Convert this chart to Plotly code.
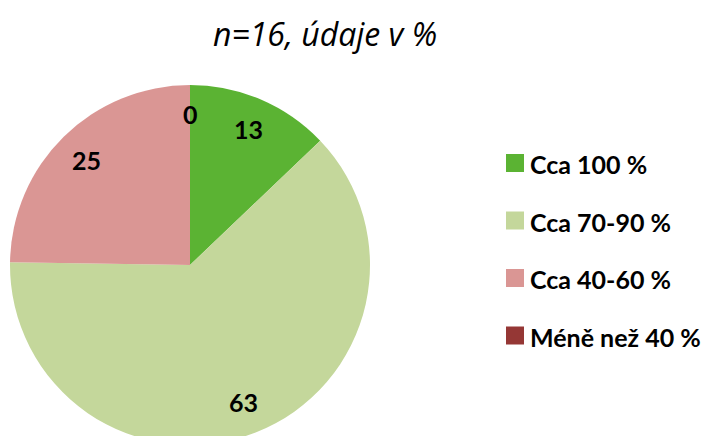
import math
import plotly.graph_objects as go

categories = ["Cca 100 %", "Cca 70-90 %", "Cca 40-60 %", "Méně než 40 %"]
values = [13, 63, 25, 0]
colors = ["#5BB333", "#C4D79B", "#DA9694", "#953735"]
title_text = "n=16, údaje v %"

W, H = 714, 460
OFF = 8  # page body margin
cx, cy, r = 190 - OFF, 265 - OFF, 180  # pixel layout of the pie (figure coords)

def px_x(x):
    return x / W

def px_y(y):
    return 1 - y / H

fig = go.Figure()
fig.add_trace(go.Pie(
    labels=categories, values=values, sort=False, direction="clockwise",
    rotation=0, marker=dict(colors=colors, line=dict(width=0)),
    textinfo="none", hoverinfo="label+value", showlegend=False,
    domain=dict(x=[px_x(cx - r), px_x(cx + r)], y=[px_y(cy + r), px_y(cy - r)]),
))

font_fam = "Lato, 'Open Sans', sans-serif"
# data labels placed at slice mid-angles computed from the values
total = sum(values)
cum = 0
for v in values:
    mid = (cum + v / 2) / total * 2 * math.pi
    cum += v
    frac = 0.84 if v == 0 else 0.82
    x = cx + frac * r * math.sin(mid)
    y = cy - frac * r * math.cos(mid)
    fig.add_annotation(x=px_x(x), y=px_y(y), xref="paper", yref="paper",
                       xanchor="center", yanchor="middle",
                       text=f"<b>{v}</b>", showarrow=False,
                       font=dict(family=font_fam, size=25, color="black"))

# manual legend
leg_x, leg_y0, leg_dy, sq = 506 - OFF, 163 - OFF, 57.5, 18
for i, (lab, col) in enumerate(zip(categories, colors)):
    yy = leg_y0 + i * leg_dy
    fig.add_shape(type="rect", xref="paper", yref="paper",
                  x0=px_x(leg_x), x1=px_x(leg_x + sq),
                  y0=px_y(yy + sq / 2), y1=px_y(yy - sq / 2),
                  fillcolor=col, line=dict(width=0))
    fig.add_annotation(x=px_x(leg_x + sq + 4), y=px_y(yy + 1), xref="paper", yref="paper",
                       xanchor="left", yanchor="middle", text=f"<b>{lab}</b>", showarrow=False,
                       font=dict(family=font_fam, size=25, color="black"))

fig.add_annotation(x=px_x(325 - OFF), y=px_y(33 - OFF), xref="paper", yref="paper",
                   xanchor="center", yanchor="middle",
                   text=f"<i>{title_text}</i>", showarrow=False,
                   font=dict(family="'Open Sans', sans-serif", size=32, color="black"))

fig.update_layout(width=W, height=H, autosize=False,
                  margin=dict(l=0, r=0, t=0, b=0),
                  paper_bgcolor="white", plot_bgcolor="white")
fig.write_html("out.html", config={"displayModeBar": False})
